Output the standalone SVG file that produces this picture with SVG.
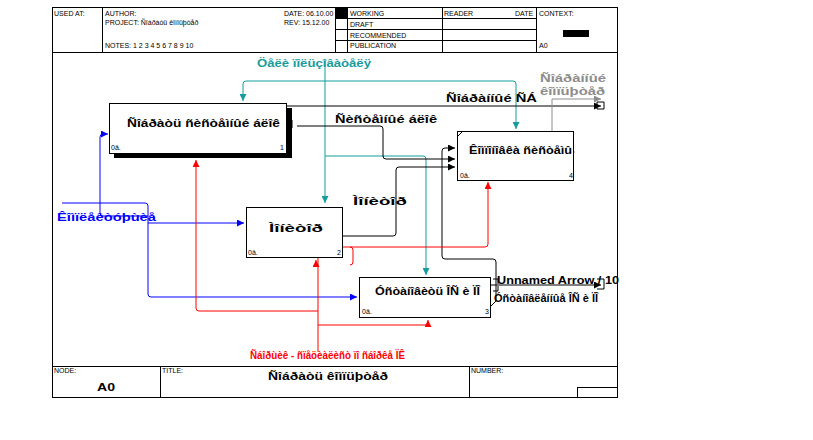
<svg xmlns="http://www.w3.org/2000/svg" width="813" height="440" viewBox="0 0 813 440">
<defs>
<style>
.hd{font-family:"Liberation Sans",Arial,sans-serif;font-size:7px;fill:#000}
.nt{font-family:"Liberation Sans",Arial,sans-serif;font-size:11px;font-weight:bold;fill:#000}
.lb{font-family:"Liberation Sans",Arial,sans-serif;font-size:10px;font-weight:bold}
.sm{font-family:"Liberation Sans",Arial,sans-serif;font-size:7px;fill:#000}
.box{fill:#fff;stroke:#000;stroke-width:1}
.ln{fill:none;stroke-width:1;stroke-linejoin:round}
.k{stroke:#000}.b{stroke:#0000ff}.t{stroke:#179c9c}.r{stroke:#ff0000}.g{stroke:#8c8c8c}
</style>
<marker id="ak" markerUnits="userSpaceOnUse" markerWidth="7" markerHeight="7" refX="7" refY="3.5" orient="auto"><path d="M0,0L7,3.5L0,7z" fill="#000"/></marker>
<marker id="ab" markerUnits="userSpaceOnUse" markerWidth="7" markerHeight="7" refX="7" refY="3.5" orient="auto"><path d="M0,0L7,3.5L0,7z" fill="#0000ff"/></marker>
<marker id="at" markerUnits="userSpaceOnUse" markerWidth="7" markerHeight="7" refX="7" refY="3.5" orient="auto"><path d="M0,0L7,3.5L0,7z" fill="#179c9c"/></marker>
<marker id="ar" markerUnits="userSpaceOnUse" markerWidth="7" markerHeight="7" refX="7" refY="3.5" orient="auto"><path d="M0,0L7,3.5L0,7z" fill="#ff0000"/></marker>
<marker id="ag" markerUnits="userSpaceOnUse" markerWidth="7" markerHeight="7" refX="7" refY="3.5" orient="auto"><path d="M0,0L7,3.5L0,7z" fill="#8c8c8c"/></marker>
</defs>
<rect width="813" height="440" fill="#fff"/>

<g id="frame">
<rect x="52.5" y="7.5" width="565" height="390" fill="none" stroke="#000"/>
<line x1="52" y1="52.5" x2="618" y2="52.5" stroke="#000"/>
<line x1="102.5" y1="7" x2="102.5" y2="52" stroke="#000"/>
<line x1="335.5" y1="7" x2="335.5" y2="52" stroke="#000"/>
<line x1="347.5" y1="7" x2="347.5" y2="52" stroke="#000"/>
<line x1="442.5" y1="7" x2="442.5" y2="52" stroke="#000"/>
<line x1="536.5" y1="7" x2="536.5" y2="52" stroke="#000"/>
<line x1="335" y1="18.5" x2="536" y2="18.5" stroke="#000"/>
<line x1="335" y1="29.5" x2="536" y2="29.5" stroke="#000"/>
<line x1="335" y1="40.5" x2="536" y2="40.5" stroke="#000"/>
<rect x="336" y="8" width="11" height="10" fill="#000"/>
<rect x="563" y="30" width="26" height="7" fill="#000"/>
<text class="hd" x="54" y="16">USED AT:</text>
<text class="hd" x="105" y="16">AUTHOR:</text>
<text class="hd" x="105" y="25">PROJECT: Ñîáðàòü êîìïüþòåð</text>
<text class="hd" x="105" y="48">NOTES:  1  2  3  4  5  6  7  8  9  10</text>
<text class="hd" x="284" y="16">DATE:  06.10.00</text>
<text class="hd" x="284" y="25">REV:    15.12.00</text>
<text class="hd" x="350" y="16">WORKING</text>
<text class="hd" x="350" y="27">DRAFT</text>
<text class="hd" x="350" y="38">RECOMMENDED</text>
<text class="hd" x="350" y="48">PUBLICATION</text>
<text class="hd" x="444" y="16">READER</text>
<text class="hd" x="515" y="16">DATE</text>
<text class="hd" x="539" y="16">CONTEXT:</text>
<text class="hd" x="539" y="48">A0</text>
<line x1="52" y1="366.5" x2="618" y2="366.5" stroke="#000"/>
<line x1="160.5" y1="366" x2="160.5" y2="398" stroke="#000"/>
<line x1="469.5" y1="366" x2="469.5" y2="398" stroke="#000"/>
<rect x="577.5" y="387.5" width="40" height="10" fill="none" stroke="#000"/>
<text class="hd" x="54" y="373">NODE:</text>
<text class="hd" x="162" y="373">TITLE:</text>
<text class="hd" x="471" y="373">NUMBER:</text>
<text class="nt" x="97" y="391" font-size="11" textLength="18" lengthAdjust="spacingAndGlyphs">A0</text>
<text class="nt" x="268" y="380" textLength="120" lengthAdjust="spacingAndGlyphs">Ñîáðàòü êîìïüþòåð</text>
</g>

<g id="connectors">
<path class="ln t" d="M325,60V203" marker-end="url(#at)"/>
<path class="ln t" d="M325,81H246Q243,81 243,84V101" marker-end="url(#at)"/>
<path class="ln t" d="M325,81H513Q516,81 516,84V129" marker-end="url(#at)"/>
<path class="ln t" d="M325,156H423Q426,156 426,159V275" marker-end="url(#at)"/>
<path class="ln b" d="M62,203H145Q148,203 148,206V294Q148,297 151,297H357" marker-end="url(#ab)"/>
<path class="ln b" d="M148,223H244" marker-end="url(#ab)"/>
<path class="ln b" d="M148,216H103Q100,216 100,213V137Q100,134 103,134H108" marker-end="url(#ab)"/>
<path class="ln k" d="M287,106H601" marker-end="url(#ak)"/>
<path class="ln k" d="M297,126H380Q383,126 383,129V156Q383,159 386,159H455" marker-end="url(#ak)"/>
<path class="ln k" d="M342,236H393Q396,236 396,233V170Q396,167 399,167H455" marker-end="url(#ak)"/>
<path class="ln k" d="M491,285H601" marker-end="url(#ak)"/>
<path class="ln k" d="M491,306L496,301V262Q496,259 493,259H445Q442,259 442,256V151Q442,148 445,148H455" marker-end="url(#ak)"/>
<path class="ln g" d="M575,152H552V99H601" marker-end="url(#ag)"/>
<path class="ln r" d="M318,352V262"/>
<path class="ln r" d="M316,266V260" marker-end="url(#ar)"/>
<path class="ln r" d="M318,262V247H485Q488,247 488,244V182" marker-end="url(#ar)"/>
<path class="ln r" d="M318,311H199Q196,311 196,308V160" marker-end="url(#ar)"/>
<path class="ln r" d="M318,325H425Q428,325 428,322V320" marker-end="url(#ar)"/>
<path class="ln r" d="M350,247Q353,247 353,250V262Q353,265 350,265"/>
<path class="ln k" d="M287,120h5v4h-5M287,128h5v-4"/>
<path class="ln k" d="M597,102h7v7h-7z"/>
<path class="ln k" d="M493,279h5v5M493,291h5v-5"/>
<path class="ln k" d="M597,279h7v10h-7"/>
</g>

<g id="labels">
<text class="lb" x="257" y="67" fill="#179c9c" textLength="114" lengthAdjust="spacingAndGlyphs">Öåëè ïîëüçîâàòåëÿ</text>
<text class="lb" x="446" y="102" fill="#000" textLength="91" lengthAdjust="spacingAndGlyphs">Ñîáðàííûé ÑÁ</text>
<text class="lb" x="540" y="82" fill="#8c8c8c" textLength="66" lengthAdjust="spacingAndGlyphs">Ñîáðàííûé</text>
<text class="lb" x="540" y="95" fill="#8c8c8c" textLength="65" lengthAdjust="spacingAndGlyphs">êîìïüþòåð</text>
<text class="lb" x="335" y="123" fill="#000" textLength="102" lengthAdjust="spacingAndGlyphs">Ñèñòåìíûé áëîê</text>
<text class="lb" x="353" y="205" fill="#000" textLength="54" lengthAdjust="spacingAndGlyphs">Ìîíèòîð</text>
<text class="lb" x="57" y="221" fill="#0000ff" textLength="99" lengthAdjust="spacingAndGlyphs">Êîìïëåêòóþùèå</text>
<text class="lb" x="497" y="284" fill="#000" textLength="122" lengthAdjust="spacingAndGlyphs">Unnamed Arrow / 10</text>
<text class="lb" x="494" y="302" fill="#000" textLength="104" lengthAdjust="spacingAndGlyphs">Óñòàíîâëåííûå ÎÑ è ÏÎ</text>
<text class="lb" x="250" y="359" fill="#ff0000" textLength="155" lengthAdjust="spacingAndGlyphs">Ñáîðùèê - ñïåöèàëèñò ïî ñáîðêå ÏÊ</text>
</g>

<g id="node1">
<rect x="114" y="108" width="178" height="50" fill="#000"/>
<rect class="box" x="109.5" y="103.5" width="177" height="50"/>
<text class="nt" x="127" y="127" textLength="153" lengthAdjust="spacingAndGlyphs">Ñîáðàòü ñèñòåìíûé áëîê</text>
<text class="sm" x="111" y="150">0â.</text>
<text class="sm" x="280" y="150">1</text>
</g>

<g id="node2">
<rect class="box" x="246.5" y="207.5" width="96" height="50"/>
<text class="nt" x="269" y="232" textLength="54" lengthAdjust="spacingAndGlyphs">Ìîíèòîð</text>
<text class="sm" x="248" y="255">0â.</text>
<text class="sm" x="337" y="255">2</text>
</g>

<g id="node3">
<rect class="box" x="359.5" y="277.5" width="131" height="40"/>
<text class="nt" x="375" y="295" textLength="105" lengthAdjust="spacingAndGlyphs">Óñòàíîâèòü ÎÑ è ÏÎ</text>
<text class="sm" x="362" y="314">0â.</text>
<text class="sm" x="485" y="314">3</text>
</g>

<g id="node4">
<rect class="box" x="457.5" y="131.5" width="116" height="49"/>
<path d="M458,136L462,132" stroke="#000" fill="none"/>
<text class="nt" x="469" y="154" textLength="103" lengthAdjust="spacingAndGlyphs">Êîìïîíîâêà ñèñòåìû</text>
<text class="sm" x="460" y="178">0â.</text>
<text class="sm" x="569" y="178">4</text>
</g>
</svg>
